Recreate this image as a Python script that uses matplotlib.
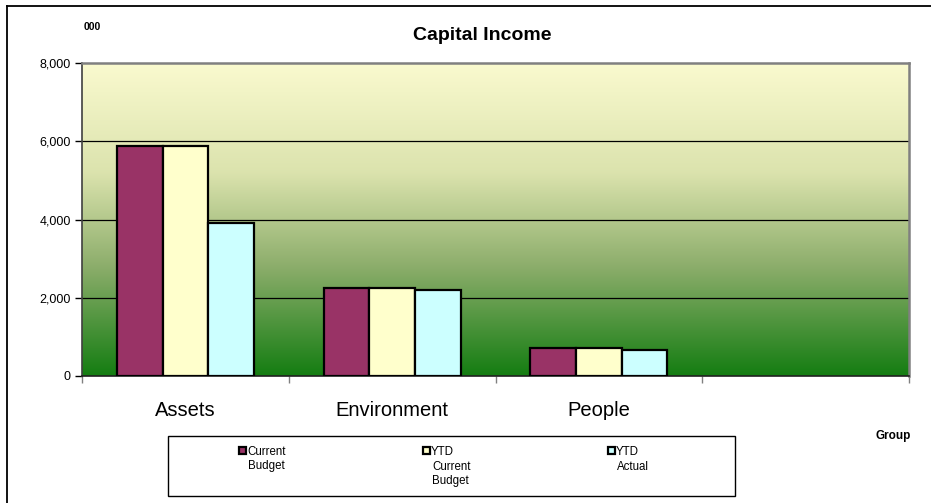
import numpy as np
import matplotlib
matplotlib.use("Agg")
import matplotlib.pyplot as plt
from matplotlib.colors import LinearSegmentedColormap
from matplotlib.patches import Rectangle
from matplotlib.lines import Line2D

categories = ["Assets", "Environment", "People", ""]
current_budget = [5890, 2250, 720, 0]
ytd_current_budget = [5890, 2250, 710, 0]
ytd_actual = [3910, 2210, 670, 0]
series_names = ["Current\nBudget", "YTD\nCurrent\nBudget", "YTD\nActual"]
series_colors = ["#993366", "#FFFFCC", "#CCFFFF"]
yticks = [0, 2000, 4000, 6000, 8000]
ytick_labels = ["0", "2,000", "4,000", "6,000", "8,000"]

plt.rcParams['font.family'] = ['Liberation Sans', 'DejaVu Sans']

W, H = 931, 503
fig = plt.figure(figsize=(W / 100, H / 100), dpi=100)
fig.patch.set_facecolor("white")

# outer border (only top and left visible)
fig.add_artist(Line2D([7 / W, 1.0], [1 - 6 / H, 1 - 6 / H], transform=fig.transFigure,
                      color="black", linewidth=1.3))
fig.add_artist(Line2D([7 / W, 7 / W], [0.0, 1 - 6 / H], transform=fig.transFigure,
                      color="black", linewidth=1.3))

L, R, T, B = 82, 909, 63, 376
ax = fig.add_axes([L / W, 1 - B / H, (R - L) / W, (B - T) / H])

# gradient background (top yellow -> bottom green)
cmap = LinearSegmentedColormap.from_list("bg", [
    (0.0, (0.98, 0.98, 0.81)),
    (0.35, (0.86, 0.89, 0.68)),
    (0.65, (0.55, 0.68, 0.42)),
    (1.0, (0.08, 0.49, 0.07)),
])
grad = np.linspace(0, 1, 256).reshape(-1, 1)
ax.imshow(grad, aspect="auto", cmap=cmap, extent=[-0.5, 3.5, 0, 8000],
          origin="upper", zorder=0, interpolation="bilinear")

x = np.arange(len(categories))
w = 0.221
for i, (vals, c) in enumerate(zip([current_budget, ytd_current_budget, ytd_actual], series_colors)):
    xs = x[:3] + (i - 1) * w
    ax.bar(xs, vals[:3], width=w, color=c, edgecolor="black", linewidth=1.6, zorder=3)

ax.set_xlim(-0.5, 3.5)
ax.set_ylim(0, 8000)

for yv in yticks[1:4]:
    ax.axhline(yv, color="black", linewidth=0.9, zorder=1)

ax.set_yticks(yticks)
ax.set_yticklabels(ytick_labels, fontsize=9)
ax.tick_params(axis="y", direction="out", length=5, width=1, pad=3, colors="black")

ax.set_xticks(np.arange(-0.5, 4.0, 1.0))
ax.set_xticklabels([])
ax.tick_params(axis="x", which="major", direction="out", length=5, width=1, color="#808080")
ax.set_xticks(x, minor=True)
ax.set_xticklabels(categories, minor=True, fontsize=14.5)
ax.tick_params(axis="x", which="minor", length=0, pad=18)

ax.spines["left"].set_color("#404040")
ax.spines["left"].set_linewidth(1.2)
ax.spines["bottom"].set_color("#202020")
ax.spines["bottom"].set_linewidth(1.2)
ax.spines["top"].set_color("#808080")
ax.spines["top"].set_linewidth(1.8)
ax.spines["right"].set_color("#808080")
ax.spines["right"].set_linewidth(1.8)

fig.text(482 / W, 1 - 35 / H, "Capital Income", ha="center", va="center",
         fontsize=14, fontweight="bold")
fig.text(84 / W, 1 - 27 / H, "000", ha="left", va="center", fontsize=7.5, fontweight="bold")
fig.text(911 / W, 1 - 436 / H, "Group", ha="right", va="center", fontsize=8.5, fontweight="bold")

# legend box
lx0, ly0, lx1, ly1 = 168, 436, 735, 496
fig.add_artist(Rectangle((lx0 / W, 1 - ly1 / H), (lx1 - lx0) / W, (ly1 - ly0) / H,
                         transform=fig.transFigure, fill=False,
                         edgecolor="black", linewidth=1.0))
entry_x = [239, 423, 608]
for ex, name, c in zip(entry_x, series_names, series_colors):
    fig.add_artist(Rectangle((ex / W, 1 - 454 / H), 7 / W, 7 / H,
                             transform=fig.transFigure, facecolor=c,
                             edgecolor="black", linewidth=1.6))
    lines = name.split("\n")
    for k, ln in enumerate(lines):
        tx = ex + 8 if k == 0 else ex + 9
        fig.text(tx / W, 1 - (452 + 14.5 * k) / H, ln, ha="left", va="center", fontsize=8.3)

fig.savefig("out.png", dpi=100)
